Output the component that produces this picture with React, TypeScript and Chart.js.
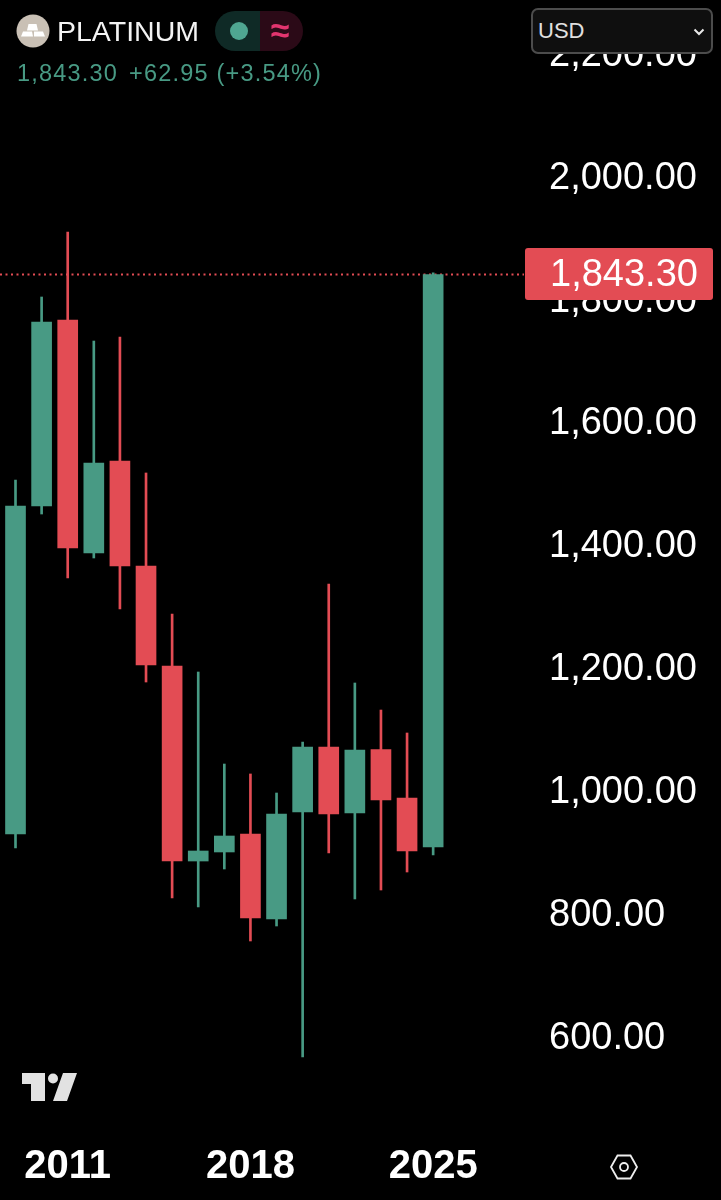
import { useEffect, useRef } from "react";
import Chart from "chart.js/auto";

const years = [2009, 2010, 2011, 2012, 2013, 2014, 2015, 2016, 2017, 2018, 2019, 2020, 2021, 2022, 2023, 2024, 2025];
const opens = [932.5, 1466.4, 1769.2, 1389.9, 1539.7, 1368.8, 1206, 888.5, 903.2, 932.5, 794.1, 968.3, 1074.1, 966.7, 1070, 991.1, 911.3];
const highs = [1508.8, 1806.7, 1912.5, 1735, 1741.6, 1520.2, 1290.6, 1196.2, 1046.4, 1030.2, 999.2, 1082.3, 1339.5, 1178.3, 1134.3, 1096.9, 1846];
const lows = [909.7, 1453.4, 1349.2, 1381.8, 1298.8, 1179.9, 828.3, 813.7, 875.5, 758.3, 782.7, 569.5, 901.6, 826.7, 841.3, 870.6, 898.3];
const closes = [1466.4, 1766, 1398.1, 1536.4, 1368.8, 1207.6, 888.5, 904.8, 929.2, 795.7, 965, 1074.1, 965, 1069.2, 987.8, 904.8, 1843.3];

const yearTicks = [2011, 2018, 2025];
const priceTicks = [600, 800, 1000, 1200, 1400, 1600, 1800, 2000, 2200];
const lastPrice = 1843.3;
const lastChange = "+62.95 (+3.54%)";

const GREEN = "#489a84";
const RED = "#e34c54";
const fmt = (v: number) =>
  v.toLocaleString("en-US", { minimumFractionDigits: 2, maximumFractionDigits: 2 });
const FONT = "'Liberation Sans', Arial, sans-serif";

const candleColors = closes.map((c, i) => (c >= opens[i] ? GREEN : RED));

const abs = (left: number, top: number, extra: any = {}) => ({ position: "absolute", left, top, ...extra } as any);

// chart.js keeps room for half a tick label at the ends, this chart runs to the edge
const noPadding = (axis: any) => {
  axis.paddingLeft = 0;
  axis.paddingRight = 0;
  axis.paddingTop = 0;
  axis.paddingBottom = 0;
};

export default function App() {
  const ctx = useRef<HTMLCanvasElement>(null);

  useEffect(() => {
    document.body.style.margin = "0";
    document.body.style.background = "#000";
    const xMin = 2008.406;
    const xMax = 2028.48;
    const chart = new Chart(ctx.current!, {
      type: "bar",
      data: {
        datasets: [
          {
            type: "line",
            data: [
              { x: xMin, y: lastPrice },
              { x: xMax, y: lastPrice },
            ],
            borderColor: RED,
            borderWidth: 2,
            borderDash: [2, 3.5],
            pointRadius: 0,
            order: 3,
          },
          {
            data: years.map((x, i) => ({ x, y: [lows[i], highs[i]] })),
            backgroundColor: candleColors,
            barThickness: 2,
            grouped: false,
            borderWidth: 0,
            order: 2,
          },
          {
            data: years.map((x, i) => ({ x, y: [opens[i], closes[i]] })),
            backgroundColor: candleColors,
            barThickness: 20,
            grouped: false,
            borderWidth: 0,
            order: 1,
          },
        ] as any,
      },
      options: {
        animation: false,
        responsive: false,
        devicePixelRatio: 1,
        layout: { padding: 0 },
        plugins: { legend: { display: false }, tooltip: { enabled: false } },
        scales: {
          x: {
            type: "linear",
            offset: false,
            min: xMin,
            max: xMax,
            grid: { display: false, drawTicks: false },
            border: { display: false },
            afterBuildTicks: (axis: any) => {
              axis.ticks = yearTicks.map((value) => ({ value }));
            },
            afterFit: (axis: any) => {
              axis.height = 74;
              noPadding(axis);
            },
            ticks: {
              autoSkip: false,
              maxRotation: 0,
              padding: 17,
              color: "#fff",
              font: { family: FONT, size: 40, weight: "bold" },
              callback: (v: any) => String(v),
            },
          },
          y: {
            type: "linear",
            position: "right",
            min: 457.1,
            max: 2290.2,
            grid: { display: false, drawTicks: false },
            border: { display: false },
            afterBuildTicks: (axis: any) => {
              axis.ticks = priceTicks.map((value) => ({ value }));
            },
            afterFit: (axis: any) => {
              axis.width = 197;
              noPadding(axis);
            },
            ticks: {
              padding: 25,
              color: "#fff",
              font: { family: FONT, size: 38 },
              callback: (v: any) => fmt(Number(v)),
            },
          },
        },
      } as any,
    });
    return () => chart.destroy();
  }, []);

  return (
    <div style={{ position: "relative", width: 721, height: 1200, background: "#000", overflow: "hidden", fontFamily: FONT }}>
      <canvas ref={ctx} width={721} height={1200} style={{ display: "block" }}></canvas>

      {/* symbol icon */}
      <svg width="34" height="34" viewBox="0 0 34 34" style={abs(16, 14)}>
        <circle cx="17" cy="17" r="16.5" fill="#c9c0b5" />
        <path d="M12.5 10h8l1.5 6.5H11z M7 17.5h9l1 5H5z M18 17.5h9l2 5H18z" fill="#fff" />
      </svg>
      <div style={abs(57, 14, { color: "#f4f4f4", fontSize: 28.5, lineHeight: "34px" })}>PLATINUM</div>

      {/* status pill */}
      <div style={abs(215, 11, { width: 45, height: 40, background: "#0f2a26", borderRadius: "20px 0 0 20px" })} />
      <div style={abs(260, 11, { width: 43, height: 40, background: "#2b0a17", borderRadius: "0 20px 20px 0" })} />
      <div style={abs(230, 22, { width: 18, height: 18, background: "#4fa691", borderRadius: "50%" })} />
      <div style={abs(266, 10, { width: 28, color: "#e2356f", fontSize: 34, lineHeight: "40px", textAlign: "center", fontWeight: "bold" })}>≈</div>

      <div style={abs(17, 59, { color: GREEN, fontSize: 23.5, letterSpacing: 1.2, lineHeight: "28px", whiteSpace: "pre" })}>
        {fmt(lastPrice)}
        <span style={{ marginLeft: 11 }}>{lastChange}</span>
      </div>

      {/* currency select */}
      <div style={abs(531, 8, { width: 178, height: 42, background: "#0f0f0f", border: "2px solid #4c4c4c", borderRadius: 7 })} />
      <div style={abs(538, 17, { color: "#e0e0e0", fontSize: 22, lineHeight: "28px" })}>USD</div>
      <svg width="12" height="8" style={abs(693, 28)}>
        <path d="M1.5 1.5L6 6l4.5-4.5" stroke="#e8e8e8" strokeWidth="2" fill="none" />
      </svg>

      {/* last price tag */}
      <div style={abs(525, 248, { width: 188, height: 52, background: RED, borderRadius: 3 })} />
      <div style={abs(550, 248, { color: "#fff", fontSize: 38, lineHeight: "50px" })}>{fmt(lastPrice)}</div>

      {/* logo */}
      <svg width="60" height="32" viewBox="0 0 60 32" style={abs(20, 1071)}>
        <path d="M2 2h23v28H11V13H2z M43 2h14L47 30H33z" fill="#e2e2e2" />
        <circle cx="33" cy="7.5" r="5" fill="#e2e2e2" />
      </svg>

      {/* settings hexagon */}
      <svg width="30" height="28" viewBox="0 0 30 28" style={abs(609, 1153)}>
        <path d="M8.5 2.5h13L28 14l-6.5 11.5h-13L2 14z" fill="none" stroke="#eee" strokeWidth="1.8" />
        <circle cx="15" cy="14" r="4" fill="none" stroke="#eee" strokeWidth="1.8" />
      </svg>
    </div>
  );
}
